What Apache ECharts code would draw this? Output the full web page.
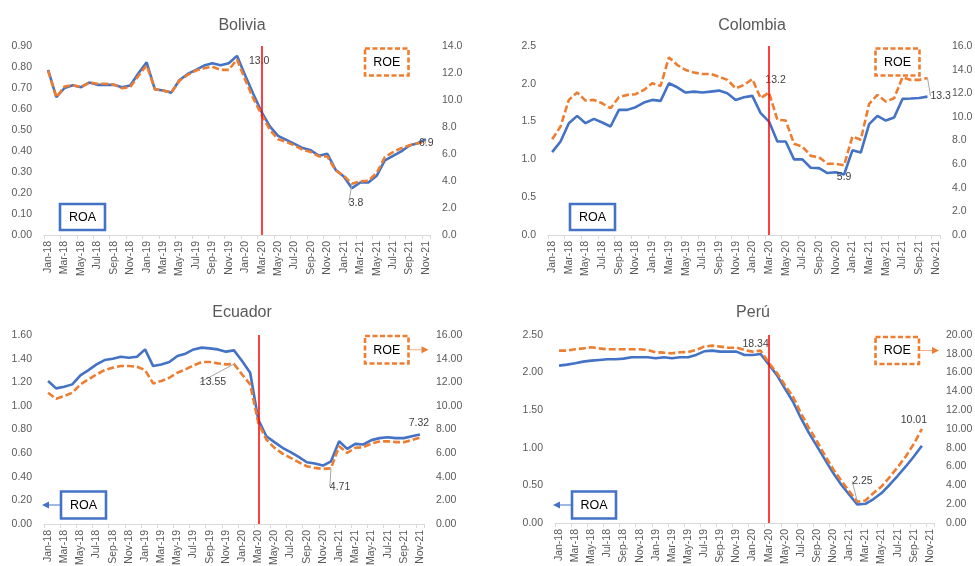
<!DOCTYPE html>
<html><head><meta charset="utf-8">
<script src="https://cdn.jsdelivr.net/npm/echarts@6/dist/echarts.min.js"></script>
<style>html,body{margin:0;padding:0;background:#fff}#c{width:975px;height:566px}</style>
</head><body><div id="c"></div>
<script>
const months = ['Jan-18','Feb-18','Mar-18','Apr-18','May-18','Jun-18','Jul-18','Aug-18','Sep-18','Oct-18','Nov-18','Dec-18',
  'Jan-19','Feb-19','Mar-19','Apr-19','May-19','Jun-19','Jul-19','Aug-19','Sep-19','Oct-19','Nov-19','Dec-19',
  'Jan-20','Feb-20','Mar-20','Apr-20','May-20','Jun-20','Jul-20','Aug-20','Sep-20','Oct-20','Nov-20','Dec-20',
  'Jan-21','Feb-21','Mar-21','Apr-21','May-21','Jun-21','Jul-21','Aug-21','Sep-21','Oct-21','Nov-21'];

const titles = ['Bolivia', 'Colombia', 'Ecuador', 'Perú'];

const boliviaROA = [0.786,0.656,0.70,0.713,0.704,0.726,0.715,0.715,0.715,0.704,0.712,0.77,
  0.822,0.694,0.688,0.678,0.738,0.767,0.786,0.807,0.818,0.808,0.818,0.853,
  0.76,0.67,0.585,0.517,0.472,0.453,0.434,0.414,0.403,0.377,0.387,0.311,
  0.279,0.223,0.25,0.25,0.282,0.355,0.377,0.398,0.426,0.437,0.456];
const boliviaROE = [12.18,10.2,11.0,11.1,10.95,11.3,11.2,11.2,11.14,10.87,10.95,11.8,
  12.57,10.8,10.7,10.55,11.44,11.86,12.18,12.35,12.47,12.23,12.23,13.0,
  11.5,10.1,8.9,7.79,7.1,6.9,6.63,6.31,6.14,5.82,5.82,4.78,
  4.39,3.8,3.97,4.02,4.58,5.77,6.14,6.43,6.65,6.8,6.9];

const colombiaROA = [1.096,1.237,1.479,1.576,1.479,1.536,1.488,1.435,1.655,1.655,1.69,1.752,
  1.787,1.774,2.007,1.954,1.884,1.897,1.884,1.897,1.91,1.875,1.787,1.822,
  1.84,1.611,1.5,1.237,1.237,1.0,1.0,0.89,0.885,0.82,0.83,0.80,
  1.12,1.09,1.466,1.576,1.514,1.554,1.8,1.805,1.813,1.83];
const colombiaROE = [8.11,9.18,11.44,12.06,11.38,11.44,11.15,10.73,11.66,11.86,11.92,12.28,
  12.85,12.62,15.04,14.39,13.97,13.75,13.63,13.63,13.41,13.13,12.42,12.7,
  13.2,11.58,12.06,9.75,9.69,7.72,7.49,6.7,6.59,6.03,6.03,5.9,
  8.34,8.06,11.1,11.86,11.3,11.58,13.35,13.13,13.13,13.3];

const ecuadorROA = [1.21,1.148,1.162,1.182,1.258,1.303,1.351,1.388,1.399,1.416,1.408,1.416,
  1.478,1.337,1.351,1.371,1.422,1.442,1.478,1.493,1.487,1.478,1.459,1.47,
  1.38,1.28,0.885,0.743,0.693,0.645,0.608,0.568,0.523,0.512,0.495,0.531,
  0.70,0.636,0.678,0.673,0.71,0.727,0.735,0.727,0.727,0.743,0.758];
const ecuadorROE = [11.11,10.6,10.83,11.11,11.82,12.24,12.66,13.03,13.23,13.37,13.37,13.31,
  13.03,11.9,12.1,12.38,12.81,13.09,13.43,13.71,13.71,13.6,13.51,13.55,
  12.66,11.82,8.57,7.15,6.45,5.96,5.6,5.23,4.89,4.75,4.66,4.71,
  6.59,6.02,6.45,6.5,6.81,6.98,7.01,6.93,6.93,7.1,7.32];

const peruROA = [2.093,2.106,2.124,2.146,2.159,2.168,2.177,2.177,2.186,2.204,2.204,2.204,
  2.19,2.204,2.19,2.204,2.204,2.235,2.283,2.292,2.279,2.279,2.279,2.235,
  2.235,2.248,2.11,1.97,1.79,1.615,1.394,1.195,1.018,0.84,0.664,0.509,
  0.376,0.245,0.255,0.319,0.398,0.509,0.628,0.752,0.885,1.027];
const peruROE = [18.34,18.34,18.48,18.58,18.69,18.58,18.48,18.48,18.48,18.48,18.48,18.41,
  18.16,18.12,18.05,18.16,18.19,18.41,18.76,18.87,18.76,18.65,18.65,18.41,
  18.23,18.34,17.06,16.0,14.69,13.45,11.68,10.09,8.67,7.15,5.73,4.5,
  3.36,2.25,2.4,3.19,3.89,4.88,5.95,7.08,8.42,10.01];

const shockMonth = 'Mar-20';

// axis scales
const roaAxes = [{max:0.9, interval:0.1, dec:2},{max:2.5, interval:0.5, dec:1},{max:1.6, interval:0.2, dec:2},{max:2.5, interval:0.5, dec:2}];
const roeAxes = [{max:14, interval:2, dec:1},{max:16, interval:2, dec:1},{max:16, interval:2, dec:2},{max:20, interval:2, dec:2}];

// layout (pixels)
const grids = [
  {left:44, top:46, width:386, height:189},
  {left:548, top:46, width:392, height:189},
  {left:44, top:335, width:380, height:189},
  {left:555, top:335, width:379, height:188}
];
const titlePos = [{x:237, y:13},{x:747, y:13},{x:237, y:300},{x:748, y:300}];

// data-label placements for ROE (line = leader line)
const labelSpecs = [
  [{i:23, pos:'right', dx:7, dy:2}, {i:37, pos:'bottom', dx:4, dy:9, line:true}, {i:46, pos:'right', dx:-12, dy:1}],
  [{i:24, pos:'right', dx:8, dy:1}, {i:35, pos:'bottom', dx:0, dy:1}, {i:45, pos:'right', dx:-2, dy:18, line:true}],
  [{i:23, pos:'bottom', dx:-21, dy:8, line:true}, {i:35, pos:'bottom', dx:9, dy:8, line:true}, {i:46, pos:'top', dx:-1, dy:-4}],
  [{i:25, pos:'top', dx:-5, dy:4}, {i:37, pos:'top', dx:5, dy:-10, line:true}, {i:45, pos:'top', dx:-8, dy:2}]
];

const roaData = [boliviaROA, colombiaROA, ecuadorROA, peruROA];
const roeData = [boliviaROE, colombiaROE, ecuadorROE, peruROE];

const FONT = 'Liberation Sans, Arial, sans-serif';
const BLUE = '#4472C4', ORANGE = '#ED7D31', GREY = '#595959';

const option = {
  animation: false,
  backgroundColor: '#fff',
  title: titles.map((t, k) => ({
    text: t, left: titlePos[k].x, top: titlePos[k].y, textAlign: 'center',
    textStyle: {fontFamily: FONT, fontSize: 16, fontWeight: 'normal', color: GREY}
  })),
  grid: grids.map(g => Object.assign({containLabel:false, outerBoundsMode:'none'}, g)),
  xAxis: grids.map((g, k) => ({
    type: 'category', gridIndex: k, data: months, boundaryGap: true,
    axisLine: {show: true, lineStyle: {color: '#d9d9d9', width: 1}},
    axisTick: {show: true, interval: 1, length: 4, lineStyle: {color: '#d9d9d9'}},
    axisLabel: {interval: 1, rotate: 90, margin: 6, color: GREY, fontSize: 10.5, fontFamily: FONT},
    splitLine: {show: false}
  })),
  yAxis: [],
  series: [],
  graphic: []
};

grids.forEach((g, k) => {
  const a = roaAxes[k], b = roeAxes[k];
  option.yAxis.push({
    type: 'value', gridIndex: k, position: 'left', min: 0, max: a.max, interval: a.interval,
    axisLine: {show: false}, axisTick: {show: false}, splitLine: {show: false},
    axisLabel: {margin: 12, color: GREY, fontSize: 10.5, fontFamily: FONT, formatter: v => v.toFixed(a.dec)}
  });
  option.yAxis.push({
    type: 'value', gridIndex: k, position: 'right', min: 0, max: b.max, interval: b.interval,
    axisLine: {show: false}, axisTick: {show: false}, splitLine: {show: false},
    axisLabel: {margin: 12, color: GREY, fontSize: 10.5, fontFamily: FONT, formatter: v => v.toFixed(b.dec)}
  });

  const specs = {};
  labelSpecs[k].forEach(s => specs[s.i] = s);

  option.series.push({
    name: 'ROA', type: 'line', xAxisIndex: k, yAxisIndex: 2*k, data: roaData[k],
    showSymbol: false, symbol: 'none',
    lineStyle: {color: BLUE, width: 2.6}, itemStyle: {color: BLUE},
    z: 2,
    markLine: {
      silent: true, symbol: ['none','none'], label: {show: false},
      lineStyle: {color: '#FF0000', width: 1.5, type: 'solid'},
      data: [{xAxis: shockMonth}]
    }
  });

  option.series.push({
    name: 'ROE', type: 'line', xAxisIndex: k, yAxisIndex: 2*k+1,
    data: roeData[k].map((v, i) => {
      const s = specs[i];
      if (!s) return v;
      const dec = (k >= 2) ? 2 : 1;
      return {
        value: v,
        label: {show: true, position: s.pos, distance: 5,
          color: '#404040', fontSize: 10.5, fontFamily: FONT,
          formatter: p => Number(p.value).toFixed(dec)},
        labelLine: {show: !!s.line, lineStyle: {color: '#a6a6a6', width: 1}}
      };
    }),
    showSymbol: true, showAllSymbol: true, symbolSize: 0, symbol: 'circle',
    lineStyle: {color: ORANGE, width: 2.6, type: [7, 3]}, itemStyle: {color: ORANGE},
    label: {show: false},
    labelLayout: params => {
      const s = specs[params.dataIndex];
      if (s) return {dx: s.dx, dy: s.dy};
      return {};
    },
    z: 3
  });
});

// annotation boxes
const roaBoxes = [{x:60,y:204,w:45,h:26},{x:570,y:204,w:45,h:26},{x:61,y:491.5,w:45,h:27},{x:572,y:491.5,w:44,h:27}];
const roeBoxes = [{x:365,y:48.5,w:43.5,h:27},{x:875.5,y:48.5,w:44,h:27},{x:365,y:336,w:43.5,h:27.5},{x:875.5,y:337,w:43.5,h:27}];
const arrows = [false, false, true, true];

roaBoxes.forEach((b, k) => {
  option.graphic.push({type:'rect', shape:{x:b.x, y:b.y, width:b.w, height:b.h},
    style:{fill:'#fff', stroke:BLUE, lineWidth:2.6}, z:100});
  option.graphic.push({type:'text', x:b.x + b.w/2, y:b.y + b.h/2 + 0.5, z:101,
    style:{text:'ROA', fill:'#000', fontSize:12.5, fontFamily:FONT, align:'center', verticalAlign:'middle'}});
  if (arrows[k]) {
    const cy = b.y + b.h/2;
    option.graphic.push({type:'line', shape:{x1:b.x-1, y1:cy, x2:b.x-12, y2:cy}, style:{stroke:BLUE, lineWidth:1}, z:100});
    option.graphic.push({type:'polygon', shape:{points:[[b.x-12,cy-3.5],[b.x-19,cy],[b.x-12,cy+3.5]]}, style:{fill:BLUE}, z:100});
  }
});
roeBoxes.forEach((b, k) => {
  option.graphic.push({type:'rect', shape:{x:b.x, y:b.y, width:b.w, height:b.h},
    style:{fill:'#fff', stroke:ORANGE, lineWidth:2.6, lineDash:[5,2.5]}, z:100});
  option.graphic.push({type:'text', x:b.x + b.w/2, y:b.y + b.h/2 + 0.5, z:101,
    style:{text:'ROE', fill:'#000', fontSize:12.5, fontFamily:FONT, align:'center', verticalAlign:'middle'}});
  if (arrows[k]) {
    const cy = b.y + b.h/2;
    const x0 = b.x + b.w + 1;
    option.graphic.push({type:'line', shape:{x1:x0, y1:cy, x2:x0+12, y2:cy}, style:{stroke:'#F4B183', lineWidth:1}, z:100});
    option.graphic.push({type:'polygon', shape:{points:[[x0+12,cy-3.5],[x0+19,cy],[x0+12,cy+3.5]]}, style:{fill:ORANGE}, z:100});
  }
});

const chart = echarts.init(document.getElementById('c'), null, {renderer:'canvas'});
chart.setOption(option);
</script>
</body></html>
